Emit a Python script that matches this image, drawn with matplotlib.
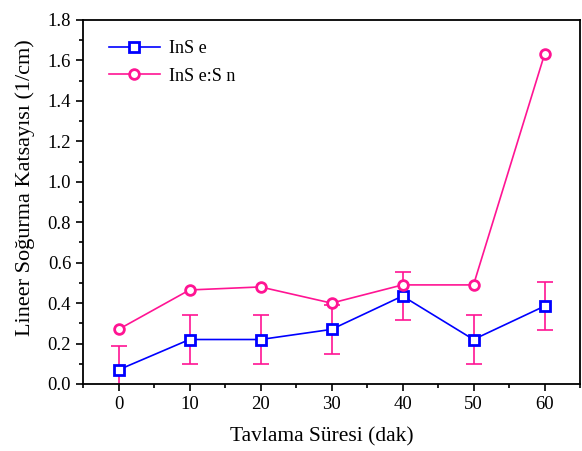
import numpy as np
import matplotlib.pyplot as plt
from matplotlib.ticker import MultipleLocator

# data
sure = [0, 10, 20, 30, 40, 50, 60]
inse = [0.07, 0.22, 0.22, 0.27, 0.435, 0.22, 0.385]
inse_err = [0.12, 0.12, 0.12, 0.12, 0.12, 0.12, 0.12]
inse_sn = [0.27, 0.465, 0.48, 0.40, 0.49, 0.49, 1.63]

plt.rcParams['font.family'] = ['Liberation Serif', 'DejaVu Serif']

fig = plt.figure(figsize=(5.82, 4.51), dpi=100)
ax = fig.add_axes([83/582, 1 - 384/451, 497/582, 364/451])

pink = '#ff1493'
blue = '#0000ff'

ax.errorbar(sure, inse, yerr=inse_err, fmt='none', ecolor=pink, elinewidth=1.2,
            capsize=6, capthick=1.2, zorder=2)
ax.plot(sure, inse, '-s', color=blue, lw=1.2, ms=7, mfc='white', mec=blue, mew=2,
        label='InS e', zorder=3)
ax.plot(sure, inse_sn, '-o', color=pink, lw=1.2, ms=7, mfc='white', mec=pink, mew=2,
        label='InS e:S n', zorder=3)

ax.set_xlim(-5, 65)
ax.set_ylim(0, 1.8)
ax.xaxis.set_major_locator(MultipleLocator(10))
ax.xaxis.set_minor_locator(MultipleLocator(5))
ax.yaxis.set_major_locator(MultipleLocator(0.2))
ax.yaxis.set_minor_locator(MultipleLocator(0.1))
ax.yaxis.set_major_formatter(plt.FuncFormatter(lambda v, p: f"{v:.1f}"))
ax.tick_params(which='major', direction='out', length=5, width=1.2, labelsize=13.5)
ax.tick_params(which='minor', direction='out', length=3, width=1.2)
ax.tick_params(top=False, right=False)
for s in ax.spines.values():
    s.set_linewidth(1.3)

ax.set_xlabel('Tavlama Süresi (dak)', fontsize=15.5)
ax.set_ylabel('Lineer Soğurma Katsayısı (1/cm)', fontsize=16)
ax.xaxis.set_label_coords(0.481, -0.118)
ax.yaxis.set_label_coords(-0.097, 0.54)

ax.legend(loc='upper left', frameon=False, fontsize=13, handlelength=2.8,
          handletextpad=0.5, bbox_to_anchor=(0.02, 0.99), labelspacing=0.6)

fig.savefig('out.png', dpi=100)
